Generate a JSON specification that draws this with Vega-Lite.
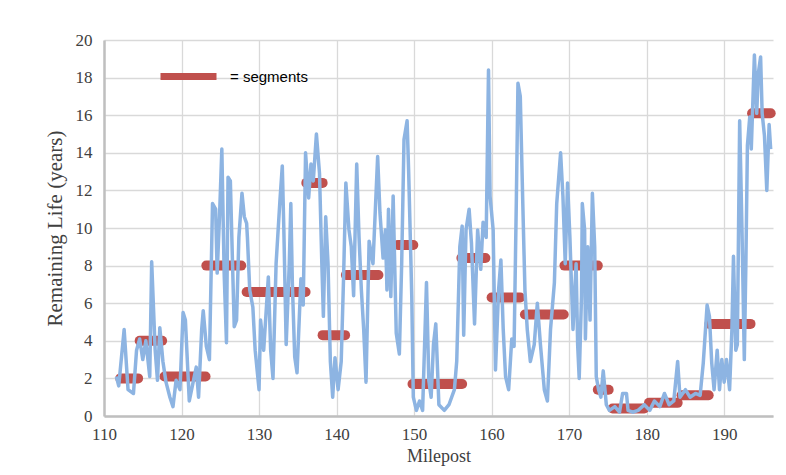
{
  "$schema": "https://vega.github.io/schema/vega-lite/v6.json",
  "autosize": {"type": "none"},
  "width": 669,
  "height": 376,
  "padding": {"left": 104, "top": 40, "right": 13, "bottom": 59},
  "background": "white",
  "config": {
    "view": {"stroke": null},
    "axis": {
      "labelFont": "Liberation Serif",
      "titleFont": "Liberation Serif",
      "labelFontSize": 17,
      "titleFontSize": 18,
      "labelColor": "#404040",
      "titleColor": "#404040",
      "titleFontWeight": "normal",
      "gridColor": "#d9d9d9",
      "gridWidth": 1.3,
      "ticks": false,
      "domainColor": "#bfbfbf",
      "domainWidth": 2.5
    }
  },
  "datasets": {
    "life": [
      {"milepost": 111.6, "life": 2.1}, {"milepost": 111.9, "life": 1.6}, {"milepost": 112.6, "life": 4.6},
      {"milepost": 113.1, "life": 1.4}, {"milepost": 113.8, "life": 1.2}, {"milepost": 114.2, "life": 3.5},
      {"milepost": 114.6, "life": 4.1}, {"milepost": 115.0, "life": 3.0}, {"milepost": 115.4, "life": 4.0},
      {"milepost": 115.9, "life": 2.1}, {"milepost": 116.15, "life": 8.2}, {"milepost": 116.6, "life": 3.5},
      {"milepost": 116.9, "life": 1.9}, {"milepost": 117.2, "life": 4.7}, {"milepost": 117.6, "life": 2.9},
      {"milepost": 118.0, "life": 1.8}, {"milepost": 118.5, "life": 1.0}, {"milepost": 118.9, "life": 0.5},
      {"milepost": 119.3, "life": 1.9}, {"milepost": 119.8, "life": 1.4}, {"milepost": 120.2, "life": 5.5},
      {"milepost": 120.5, "life": 5.1}, {"milepost": 121.0, "life": 0.8}, {"milepost": 121.5, "life": 1.8},
      {"milepost": 121.9, "life": 2.6}, {"milepost": 122.2, "life": 1.0}, {"milepost": 122.6, "life": 4.6},
      {"milepost": 122.8, "life": 5.6}, {"milepost": 123.2, "life": 3.7}, {"milepost": 123.6, "life": 3.0},
      {"milepost": 124.0, "life": 11.3}, {"milepost": 124.4, "life": 11.0}, {"milepost": 124.6, "life": 7.6},
      {"milepost": 124.9, "life": 10.6}, {"milepost": 125.2, "life": 14.2}, {"milepost": 125.5, "life": 7.6},
      {"milepost": 125.8, "life": 3.9}, {"milepost": 126.0, "life": 12.7}, {"milepost": 126.3, "life": 12.5},
      {"milepost": 126.6, "life": 7.8}, {"milepost": 126.8, "life": 4.75}, {"milepost": 127.1, "life": 5.1},
      {"milepost": 127.4, "life": 9.5}, {"milepost": 127.8, "life": 11.85}, {"milepost": 128.1, "life": 10.6},
      {"milepost": 128.4, "life": 10.25}, {"milepost": 128.5, "life": 9.5}, {"milepost": 128.8, "life": 6.7},
      {"milepost": 129.2, "life": 5.8}, {"milepost": 129.5, "life": 3.5}, {"milepost": 130.0, "life": 1.4},
      {"milepost": 130.2, "life": 5.1}, {"milepost": 130.6, "life": 3.5}, {"milepost": 131.2, "life": 7.4},
      {"milepost": 131.5, "life": 3.5}, {"milepost": 131.8, "life": 2.0}, {"milepost": 132.2, "life": 8.1},
      {"milepost": 132.7, "life": 11.5}, {"milepost": 133.0, "life": 13.3}, {"milepost": 133.2, "life": 9.9},
      {"milepost": 133.5, "life": 3.8}, {"milepost": 133.9, "life": 8.1}, {"milepost": 134.1, "life": 11.3},
      {"milepost": 134.3, "life": 7.0}, {"milepost": 134.6, "life": 3.15}, {"milepost": 134.9, "life": 2.3},
      {"milepost": 135.4, "life": 7.3}, {"milepost": 135.7, "life": 5.9}, {"milepost": 136.0, "life": 14.0},
      {"milepost": 136.4, "life": 11.6}, {"milepost": 136.7, "life": 13.4}, {"milepost": 137.0, "life": 12.5},
      {"milepost": 137.4, "life": 15.0}, {"milepost": 137.8, "life": 12.9}, {"milepost": 138.1, "life": 8.1},
      {"milepost": 138.3, "life": 5.3}, {"milepost": 138.6, "life": 10.6}, {"milepost": 138.9, "life": 8.1},
      {"milepost": 139.2, "life": 2.9}, {"milepost": 139.5, "life": 1.0}, {"milepost": 139.8, "life": 3.1},
      {"milepost": 140.2, "life": 1.4}, {"milepost": 140.6, "life": 2.9}, {"milepost": 140.9, "life": 7.3},
      {"milepost": 141.2, "life": 12.4}, {"milepost": 141.6, "life": 9.9}, {"milepost": 141.9, "life": 9.0},
      {"milepost": 142.2, "life": 6.4}, {"milepost": 142.6, "life": 13.4}, {"milepost": 142.9, "life": 9.5},
      {"milepost": 143.2, "life": 6.7}, {"milepost": 143.5, "life": 4.6}, {"milepost": 143.8, "life": 1.8},
      {"milepost": 144.2, "life": 9.3}, {"milepost": 144.7, "life": 8.1}, {"milepost": 145.3, "life": 13.8},
      {"milepost": 145.6, "life": 10.8}, {"milepost": 146.0, "life": 8.4}, {"milepost": 146.3, "life": 9.9},
      {"milepost": 146.5, "life": 6.7}, {"milepost": 146.7, "life": 11.0}, {"milepost": 147.0, "life": 6.35},
      {"milepost": 147.3, "life": 11.7}, {"milepost": 147.7, "life": 4.4}, {"milepost": 148.1, "life": 3.3},
      {"milepost": 148.4, "life": 8.1}, {"milepost": 148.7, "life": 14.7}, {"milepost": 149.1, "life": 15.7},
      {"milepost": 149.3, "life": 13.0}, {"milepost": 149.7, "life": 6.4}, {"milepost": 149.9, "life": 1.0},
      {"milepost": 150.3, "life": 0.3}, {"milepost": 150.7, "life": 0.8}, {"milepost": 151.1, "life": 0.3},
      {"milepost": 151.6, "life": 7.1}, {"milepost": 151.9, "life": 1.9}, {"milepost": 152.2, "life": 1.0},
      {"milepost": 152.5, "life": 3.8}, {"milepost": 152.8, "life": 4.9}, {"milepost": 153.2, "life": 0.6},
      {"milepost": 153.9, "life": 0.3}, {"milepost": 154.5, "life": 0.6}, {"milepost": 155.2, "life": 1.4},
      {"milepost": 155.5, "life": 2.9}, {"milepost": 155.9, "life": 9.0}, {"milepost": 156.2, "life": 10.1},
      {"milepost": 156.4, "life": 4.3}, {"milepost": 156.7, "life": 9.9}, {"milepost": 157.1, "life": 11.0},
      {"milepost": 157.4, "life": 9.2}, {"milepost": 157.8, "life": 4.9}, {"milepost": 158.2, "life": 9.9},
      {"milepost": 158.6, "life": 7.8}, {"milepost": 158.9, "life": 10.3}, {"milepost": 159.3, "life": 9.5},
      {"milepost": 159.6, "life": 18.4}, {"milepost": 159.8, "life": 11.7}, {"milepost": 160.2, "life": 9.9},
      {"milepost": 160.5, "life": 2.45}, {"milepost": 160.9, "life": 6.7}, {"milepost": 161.2, "life": 8.3},
      {"milepost": 161.5, "life": 4.6}, {"milepost": 161.8, "life": 2.1}, {"milepost": 162.2, "life": 1.4},
      {"milepost": 162.6, "life": 4.1}, {"milepost": 162.9, "life": 3.7}, {"milepost": 163.2, "life": 11.7},
      {"milepost": 163.4, "life": 17.7}, {"milepost": 163.7, "life": 17.0}, {"milepost": 164.0, "life": 11.7},
      {"milepost": 164.3, "life": 6.7}, {"milepost": 164.6, "life": 4.6}, {"milepost": 165.0, "life": 2.9},
      {"milepost": 165.5, "life": 3.8}, {"milepost": 165.9, "life": 6.0}, {"milepost": 166.3, "life": 3.8},
      {"milepost": 166.8, "life": 1.4}, {"milepost": 167.2, "life": 0.8}, {"milepost": 167.6, "life": 4.6},
      {"milepost": 168.1, "life": 7.1}, {"milepost": 168.4, "life": 11.3}, {"milepost": 168.9, "life": 14.0},
      {"milepost": 169.2, "life": 11.7}, {"milepost": 169.5, "life": 8.1}, {"milepost": 169.8, "life": 12.4},
      {"milepost": 170.1, "life": 9.5}, {"milepost": 170.5, "life": 4.6}, {"milepost": 170.9, "life": 8.1},
      {"milepost": 171.1, "life": 3.8}, {"milepost": 171.3, "life": 2.0}, {"milepost": 171.6, "life": 6.4},
      {"milepost": 171.7, "life": 11.3}, {"milepost": 172.0, "life": 9.9}, {"milepost": 172.1, "life": 4.1},
      {"milepost": 172.4, "life": 9.0}, {"milepost": 172.7, "life": 5.1}, {"milepost": 173.0, "life": 11.85},
      {"milepost": 173.3, "life": 9.0}, {"milepost": 173.5, "life": 2.1}, {"milepost": 173.8, "life": 1.4},
      {"milepost": 174.1, "life": 1.0}, {"milepost": 174.4, "life": 2.4}, {"milepost": 174.8, "life": 0.6},
      {"milepost": 175.2, "life": 0.3}, {"milepost": 175.9, "life": 0.5}, {"milepost": 176.5, "life": 0.2},
      {"milepost": 176.9, "life": 1.2}, {"milepost": 177.4, "life": 1.2}, {"milepost": 177.6, "life": 0.3},
      {"milepost": 178.2, "life": 0.2}, {"milepost": 178.9, "life": 0.3}, {"milepost": 179.7, "life": 0.6},
      {"milepost": 180.4, "life": 0.3}, {"milepost": 181.0, "life": 0.8}, {"milepost": 181.7, "life": 0.5},
      {"milepost": 182.3, "life": 1.2}, {"milepost": 182.9, "life": 0.6}, {"milepost": 183.5, "life": 0.8},
      {"milepost": 184.0, "life": 2.9}, {"milepost": 184.3, "life": 1.0}, {"milepost": 185.0, "life": 1.4},
      {"milepost": 185.6, "life": 1.0}, {"milepost": 186.3, "life": 1.2}, {"milepost": 186.9, "life": 1.1},
      {"milepost": 187.3, "life": 2.8}, {"milepost": 187.8, "life": 5.9}, {"milepost": 188.1, "life": 5.3},
      {"milepost": 188.4, "life": 2.8}, {"milepost": 188.7, "life": 1.4}, {"milepost": 189.1, "life": 3.5},
      {"milepost": 189.4, "life": 1.4}, {"milepost": 189.7, "life": 3.0}, {"milepost": 190.0, "life": 1.8},
      {"milepost": 190.3, "life": 3.0}, {"milepost": 190.7, "life": 1.4}, {"milepost": 191.0, "life": 4.6},
      {"milepost": 191.2, "life": 8.5}, {"milepost": 191.5, "life": 3.5}, {"milepost": 191.7, "life": 3.8},
      {"milepost": 192.0, "life": 15.7}, {"milepost": 192.3, "life": 9.9}, {"milepost": 192.6, "life": 3.0},
      {"milepost": 192.8, "life": 8.1}, {"milepost": 193.0, "life": 14.4}, {"milepost": 193.3, "life": 15.9},
      {"milepost": 193.5, "life": 14.2}, {"milepost": 193.9, "life": 19.2}, {"milepost": 194.2, "life": 16.1},
      {"milepost": 194.4, "life": 18.2}, {"milepost": 194.7, "life": 19.1}, {"milepost": 194.9, "life": 16.1},
      {"milepost": 195.2, "life": 14.9}, {"milepost": 195.5, "life": 12.0}, {"milepost": 195.8, "life": 15.5},
      {"milepost": 196.0, "life": 14.2}
    ],
    "segments": [
      {"start": 112.1, "end": 114.4, "value": 2.0},
      {"start": 114.6, "end": 117.5, "value": 4.0},
      {"start": 117.8, "end": 123.1, "value": 2.1},
      {"start": 123.2, "end": 127.7, "value": 8.0},
      {"start": 128.4, "end": 136.0, "value": 6.6},
      {"start": 136.1, "end": 138.2, "value": 12.4},
      {"start": 138.2, "end": 141.1, "value": 4.3},
      {"start": 141.2, "end": 145.4, "value": 7.5},
      {"start": 147.9, "end": 149.9, "value": 9.1},
      {"start": 149.8, "end": 156.2, "value": 1.7},
      {"start": 156.1, "end": 159.2, "value": 8.4},
      {"start": 160.0, "end": 163.7, "value": 6.3},
      {"start": 164.3, "end": 169.3, "value": 5.4},
      {"start": 169.4, "end": 173.7, "value": 8.0},
      {"start": 173.7, "end": 175.1, "value": 1.4},
      {"start": 175.6, "end": 179.7, "value": 0.4},
      {"start": 180.3, "end": 184.0, "value": 0.7},
      {"start": 184.5, "end": 188.0, "value": 1.1},
      {"start": 188.1, "end": 193.4, "value": 4.9},
      {"start": 193.6, "end": 196.0, "value": 16.1}
    ]
  },
  "encoding": {
    "x": {
      "type": "quantitative",
      "scale": {"domain": [110, 196.3], "nice": false, "zero": false},
      "axis": {"title": "Milepost", "values": [110, 120, 130, 140, 150, 160, 170, 180, 190], "labelPadding": 10, "titlePadding": 5, "labelFlush": false}
    },
    "y": {
      "type": "quantitative",
      "scale": {"domain": [0, 20], "nice": false},
      "axis": {"title": "Remaining Life (years)", "titleFontSize": 21, "values": [0, 2, 4, 6, 8, 10, 12, 14, 16, 18, 20], "labelPadding": 12, "titlePadding": 10}
    }
  },
  "layer": [
    {
      "data": {"name": "segments"},
      "mark": {"type": "rule", "strokeWidth": 10, "strokeCap": "round"},
      "encoding": {
        "x": {"field": "start", "type": "quantitative"},
        "x2": {"field": "end"},
        "y": {"field": "value", "type": "quantitative"},
        "color": {
          "datum": "= segments",
          "type": "nominal",
          "scale": {"range": ["#c0504d"]},
          "legend": {
            "title": null,
            "orient": "none",
            "legendX": 53,
            "legendY": 5,
            "padding": 0,
            "symbolType": "stroke",
            "symbolSize": 3136,
            "symbolStrokeWidth": 7,
            "labelFont": "Liberation Sans",
            "labelFontSize": 15,
            "labelColor": "#000000",
            "labelOffset": 10,
            "encode": {"symbols": {"update": {"stroke": {"value": "#c00000"}, "strokeCap": {"value": "butt"}}}}
          }
        }
      }
    },
    {
      "data": {"name": "life"},
      "mark": {"type": "line", "color": "#8db4e2", "strokeWidth": 3.5, "strokeJoin": "round"},
      "encoding": {
        "x": {"field": "milepost", "type": "quantitative"},
        "y": {"field": "life", "type": "quantitative"}
      }
    }
  ]
}
